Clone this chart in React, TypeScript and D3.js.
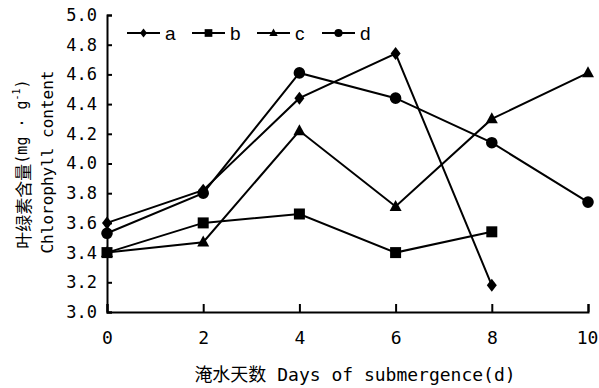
import { useEffect, useRef } from "react";
import * as d3 from "d3";

// days of submergence and chlorophyll content per treatment
const days = [0, 2, 4, 6, 8, 10];
const seriesNames = ["a", "b", "c", "d"];
const aVals = [3.6, 3.82, 4.44, 4.74, 3.18, null];
const bVals = [3.4, 3.6, 3.66, 3.4, 3.54, null];
const cVals = [3.4, 3.47, 4.22, 3.71, 4.3, 4.61];
const dVals = [3.53, 3.8, 4.61, 4.44, 4.14, 3.74];
const markers = ["diamond", "square", "triangle", "circle"];
const yTicks = [3.0, 3.2, 3.4, 3.6, 3.8, 4.0, 4.2, 4.4, 4.6, 4.8, 5.0];
const xTicks = [0, 2, 4, 6, 8, 10];

const MONO = "'DejaVu Sans Mono', 'Noto Sans CJK SC', monospace";
const CJK = "'Noto Sans CJK SC', 'DejaVu Sans Mono', sans-serif";

function markerPath(kind: string, s = 1) {
  if (kind === "diamond") {
    const w = 5 * s, h = 6.5 * s;
    return `M0,${-h}L${w},0L0,${h}L${-w},0Z`;
  }
  if (kind === "square") {
    const r = 5.5 * s;
    return `M${-r},${-r}H${r}V${r}H${-r}Z`;
  }
  if (kind === "triangle") {
    const w = 6 * s, h = 11 * s;
    return `M0,${-h * 0.6}L${w},${h * 0.4}L${-w},${h * 0.4}Z`;
  }
  const r = 5.8 * s;
  return `M${r},0A${r},${r} 0 1,1 ${-r},0A${r},${r} 0 1,1 ${r},0Z`;
}

export default function App() {
  const svgElem = useRef<SVGSVGElement>(null);

  useEffect(() => {
    const width = 599;
    const height = 388;
    const svg = d3.select(svgElem.current).attr("width", width).attr("height", height);
    svg.selectAll("*").remove();

    const x = d3.scaleLinear().domain([0, 10]).range([107, 588]);
    const y = d3.scaleLinear().domain([3, 5]).range([312, 15]);

    // axes
    const yAxis = svg
      .append("g")
      .attr("transform", `translate(${x(0)},0)`)
      .call(
        d3.axisLeft(y).tickValues(yTicks).tickSize(-5).tickPadding(10).tickFormat(d3.format(".1f"))
      );
    const xAxis = svg
      .append("g")
      .attr("transform", `translate(0,${y(3)})`)
      .call(d3.axisBottom(x).tickValues(xTicks).tickSize(-8).tickSizeOuter(-8).tickPadding(19));

    [yAxis, xAxis].forEach((g) => {
      g.selectAll("path, line").attr("stroke", "#000").attr("stroke-width", 2);
      g.selectAll("text").attr("font-family", MONO).attr("fill", "#000");
    });
    yAxis.selectAll("text").attr("font-size", 17);
    xAxis.selectAll("text").attr("font-size", 18);
    // keep the last label inside the frame
    xAxis.selectAll<SVGTextElement, number>("text").attr("dx", (d) => (d === 10 ? -1 : 0));

    const allSeries = [aVals, bVals, cVals, dVals];
    const line = d3
      .line<[number, number | null]>()
      .defined((d) => d[1] != null)
      .x((d) => x(d[0]))
      .y((d) => y(d[1] as number));

    allSeries.forEach((vals, i) => {
      const pts = days.map((dd, j) => [dd, vals[j]] as [number, number | null]);
      svg
        .append("path")
        .datum(pts)
        .attr("fill", "none")
        .attr("stroke", "#000")
        .attr("stroke-width", 2)
        .attr("d", line);
      svg
        .append("g")
        .selectAll("path")
        .data(pts.filter((p) => p[1] != null))
        .join("path")
        .attr("transform", (p) => `translate(${x(p[0])},${y(p[1] as number)})`)
        .attr("d", markerPath(markers[i]))
        .attr("fill", "#000");
    });

    // legend
    const legend = svg.append("g").attr("transform", "translate(127,33)");
    seriesNames.forEach((name, i) => {
      const g = legend.append("g").attr("transform", `translate(${i * 65},0)`);
      g.append("line").attr("x1", 0).attr("x2", 33).attr("stroke", "#000").attr("stroke-width", 2);
      g.append("path").attr("transform", "translate(16.5,0)").attr("d", markerPath(markers[i], 0.7));
      g.append("text")
        .attr("x", 38)
        .attr("dy", "0.35em")
        .attr("font-family", "'Liberation Sans', Arial, sans-serif")
        .attr("font-size", 19)
        .text(name);
    });

    // y label
    const yl = svg
      .append("text")
      .attr("transform", "translate(22,164) rotate(-90)")
      .attr("text-anchor", "middle")
      .attr("dominant-baseline", "central")
      .attr("font-size", 17);
    yl.append("tspan").attr("font-family", CJK).text("叶绿素含量");
    yl.append("tspan").attr("font-family", MONO).attr("font-size", 15).text("(mg · g");
    yl.append("tspan").attr("font-family", MONO).attr("font-size", 10).attr("dy", -6).text("-1");
    yl.append("tspan").attr("font-family", MONO).attr("font-size", 15).attr("dy", 6).text(")");

    svg
      .append("text")
      .attr("transform", "translate(47,162) rotate(-90)")
      .attr("text-anchor", "middle")
      .attr("dominant-baseline", "central")
      .attr("font-family", MONO)
      .attr("font-size", 16)
      .text("Chlorophyll content");

    // x label
    svg
      .append("text")
      .attr("x", 355)
      .attr("y", 374)
      .attr("text-anchor", "middle")
      .attr("dominant-baseline", "central")
      .attr("font-family", MONO)
      .attr("font-size", 18)
      .text("淹水天数 Days of submergence(d)");
  }, []);

  return (
    <div style={{ position: "absolute", left: 0, top: 0, background: "#fff" }}>
      <svg ref={svgElem}></svg>
    </div>
  );
}
